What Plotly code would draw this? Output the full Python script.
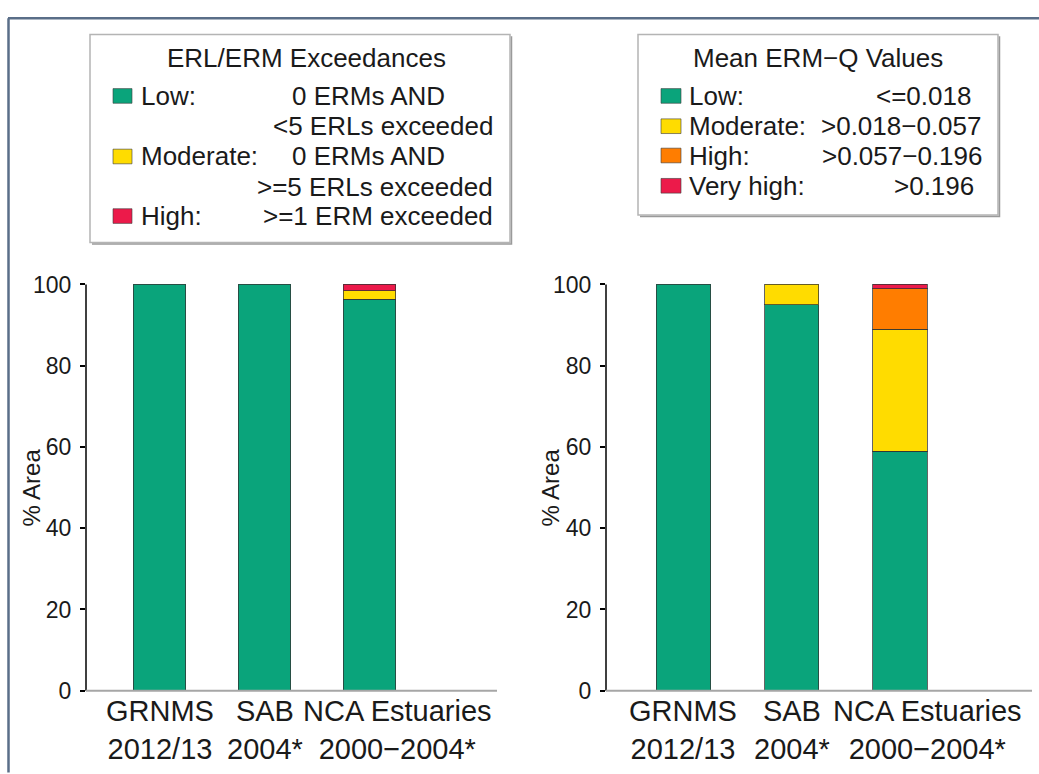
import plotly.graph_objects as go

# Sites compared in both panels
sites = ["GRNMS", "SAB", "NCA Estuaries"]
periods = ["2012/13", "2004*", "2000−2004*"]

# % area by ERL/ERM exceedance class
exceed_low = [100, 100, 96.4]
exceed_moderate = [0, 0, 2.1]
exceed_high = [0, 0, 1.5]

# % area by mean ERM-Q class
ermq_low = [100, 95, 59]
ermq_moderate = [0, 5, 30]
ermq_high = [0, 0, 10]
ermq_very_high = [0, 0, 1]

y_ticks = [0, 20, 40, 60, 80, 100]

GREEN = "#0aa47b"
YELLOW = "#ffdc00"
ORANGE = "#ff7d00"
RED = "#ec1a4a"
OUTLINE = "rgba(50,50,50,0.75)"
FONT = "Liberation Sans, Arial, Helvetica, sans-serif"
INK = "#1a1a1a"

W, H = 1039, 774


def px(x):
    return x / W


def py(y):
    return 1 - y / H


def nz(vals):
    # skip empty segments so no zero-height outline is drawn
    return [v if v else None for v in vals]


fig = go.Figure()
xs = list(range(len(sites)))

for vals, col in [(exceed_low, GREEN), (exceed_moderate, YELLOW), (exceed_high, RED)]:
    fig.add_trace(go.Bar(x=xs, y=nz(vals), width=0.5, marker=dict(color=col, line=dict(color=OUTLINE, width=1)),
                         xaxis="x", yaxis="y", showlegend=False, hoverinfo="skip"))

for vals, col in [(ermq_low, GREEN), (ermq_moderate, YELLOW), (ermq_high, ORANGE), (ermq_very_high, RED)]:
    fig.add_trace(go.Bar(x=xs, y=nz(vals), width=0.5, marker=dict(color=col, line=dict(color=OUTLINE, width=1)),
                         xaxis="x2", yaxis="y2", showlegend=False, hoverinfo="skip"))

# vertical geometry: 0 at y=698px, 100 at y=282px
unit = (698 - 282) / 100
r0, r1 = -1.0, 101.0
yd0 = py(698 + (0 - r0) * unit)
yd1 = py(698 - (r1 - 0) * unit)

yaxis_common = dict(range=[r0, r1], domain=[yd0, yd1], tickvals=y_ticks, ticks="outside", ticklen=5,
                    tickwidth=1.5, tickcolor="black", showline=False, showgrid=False, zeroline=False,
                    tickfont=dict(family=FONT, size=23, color=INK), ticklabelstandoff=4)
xaxis_common = dict(showticklabels=False, ticks="", showline=False, showgrid=False, zeroline=False)

fig.update_layout(
    width=W, height=H, margin=dict(l=0, r=0, t=0, b=0),
    paper_bgcolor="white", plot_bgcolor="white", barmode="stack", showlegend=False,
    xaxis=dict(xaxis_common, domain=[px(86), px(497)], range=[-0.70, 3.214], anchor="y"),
    yaxis=dict(yaxis_common, anchor="x"),
    xaxis2=dict(xaxis_common, domain=[px(606), px(1032)], range=[-0.716, 3.22], anchor="y2"),
    yaxis2=dict(yaxis_common, anchor="x2"),
)

shapes = []
annotations = []

for xa, ya in [("x", "y"), ("x2", "y2")]:
    # y axis line spanning 0-100 and grey baseline
    shapes.append(dict(type="line", xref=f"{xa} domain", yref=ya, x0=0, x1=0, y0=0, y1=100,
                       line=dict(color="black", width=1.5), layer="above"))
    shapes.append(dict(type="line", xref=f"{xa} domain", yref=ya, x0=0, x1=1, y0=0, y1=0,
                       line=dict(color="#a6a6a6", width=2), layer="above"))
    # category labels
    for i, (s, p) in enumerate(zip(sites, periods)):
        shift = 28 if i == 2 else 0
        annotations.append(dict(xref=xa, yref="paper", x=i, y=py(700), xshift=shift, xanchor="center",
                                yanchor="top", showarrow=False, align="center", text=f"{s}<br>{p}",
                                font=dict(family=FONT, size=29, color=INK)))

# y axis titles
for xc in (32, 551):
    annotations.append(dict(xref="paper", yref="paper", x=px(xc), y=py(490), textangle=-90, showarrow=False,
                            xanchor="center", yanchor="middle", text="% Area",
                            font=dict(family=FONT, size=24, color=INK)))

LEG_FONT = dict(family=FONT, size=26, color=INK)


def text_at(x, y, s, anchor):
    annotations.append(dict(xref="paper", yref="paper", x=px(x), y=py(y), xanchor=anchor, yanchor="middle",
                            showarrow=False, text=s, font=LEG_FONT))


def swatch(x0, x1, yc, col):
    shapes.append(dict(type="rect", xref="paper", yref="paper", x0=px(x0), x1=px(x1), y0=py(yc - 7.5),
                       y1=py(yc + 7.5), fillcolor=col, line=dict(color="rgba(60,60,60,0.6)", width=1)))


# legend boxes with a light drop shadow on the right and bottom edges
for (x0, y0, x1, y1) in [(90, 26, 510, 239), (638, 26, 998, 211)]:
    shapes.append(dict(type="rect", xref="paper", yref="paper", x0=px(x0), x1=px(x1), y0=py(y1), y1=py(y0),
                       line=dict(color="#b4b4b4", width=1.5), fillcolor="white", layer="below"))
    shapes.append(dict(type="path", xref="paper", yref="paper", layer="below",
                       path=f"M {px(x1 + 1.5)} {py(y0 + 2)} L {px(x1 + 1.5)} {py(y1 + 1.5)} "
                            f"L {px(x0 + 2)} {py(y1 + 1.5)}",
                       line=dict(color="#9a9a9a", width=1.5)))

# ERL/ERM legend
text_at(306, 50, "ERL/ERM Exceedances", "center")
left_rows = [("Low:", GREEN, 89, ["0 ERMs AND", "&lt;5 ERLs exceeded"]),
             ("Moderate:", YELLOW, 151, ["0 ERMs AND", "&gt;=5 ERLs exceeded"]),
             ("High:", RED, 212, ["&gt;=1 ERM exceeded"])]
for name, col, yc, desc in left_rows:
    swatch(113, 132, yc, col)
    text_at(139, yc, name, "left")
    for j, line in enumerate(desc):
        right = 447 if line.startswith("0 ") else 495
        text_at(right, yc + 31 * j, line, "right")

# ERM-Q legend
text_at(818, 50, "Mean ERM−Q Values", "center")
right_rows = [("Low:", GREEN, 89, "&lt;=0.018", 973),
              ("Moderate:", YELLOW, 120, "&gt;0.018−0.057", 984),
              ("High:", ORANGE, 150, "&gt;0.057−0.196", 985),
              ("Very high:", RED, 181, "&gt;0.196", 976)]
for name, col, yc, rng, right in right_rows:
    swatch(661, 681, yc, col)
    text_at(687, yc, name, "left")
    text_at(right, yc, rng, "right")

# page frame (top and left edges)
shapes.append(dict(type="line", xref="paper", yref="paper", x0=px(8), x1=1.01, y0=py(9.5), y1=py(9.5),
                   line=dict(color="#5a6e88", width=2.5)))
shapes.append(dict(type="line", xref="paper", yref="paper", x0=px(8.5), x1=px(8.5), y0=py(9.5), y1=-0.01,
                   line=dict(color="#5a6e88", width=2.5)))

fig.update_layout(shapes=shapes, annotations=annotations)
fig.write_html("out.html")
